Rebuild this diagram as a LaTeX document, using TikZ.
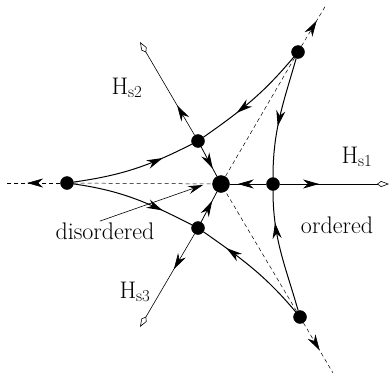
\documentclass[tikz,border=0pt]{standalone}
\usetikzlibrary{arrows.meta,decorations.markings}

\begin{document}
\begin{tikzpicture}[x=1pt,y=1pt,
  fp/.style={draw,circle,fill=black,inner sep=0pt,minimum size=13pt},
  flow/.style={postaction={decorate},
    decoration={markings,mark=at position #1 with {\arrow{Stealth[length=16pt,width=9pt,inset=5pt]}}}},
  field/.style={line width=.6pt,-{Kite[open,length=12pt,width=6pt,inset=4pt]}},
  sep/.style={line width=.5pt,dash pattern=on 4pt off 3pt},
  curve/.style={line width=1pt},
  lbl/.style={font=\fontsize{24}{28}\selectfont}]
\useasboundingbox (0,0) rectangle (391,-375);
% fixed points
\node[fp,minimum size=17pt] (c) at (221,-184) {};
\node[fp] (r) at (273,-184) {};
\node[fp] (ul) at (198,-141) {};
\node[fp] (ll) at (198,-228) {};
\node[fp] (l) at (67,-183) {};
\node[fp] (t) at (298,-52) {};
\node[fp] (b) at (300,-317) {};
\coordinate (h1) at (389,-184);
\coordinate (h2) at (140,-42);
\coordinate (h3) at (140,-327);
\coordinate (el) at (5,-183);
\coordinate (et) at (326,-5);
\coordinate (eb) at (333,-373);
\coordinate (dp) at (203,-185);
% labels
\node[lbl] (hs1) at (357,-157) {H\textsubscript{s1}};
\node[lbl] (hs2) at (127,-88) {H\textsubscript{s2}};
\node[lbl] (hs3) at (135,-292) {H\textsubscript{s3}};
\node[lbl] (dis) at (105,-231) {disordered};
\node[lbl] (ord) at (337,-225) {ordered};
% separatrices
\draw[sep] (l) -- (c);
\draw[sep,flow=.6] (l) -- (el);
\draw[sep] (t) -- (c);
\draw[sep,flow=.62] (t) -- (et);
\draw[sep] (b) -- (c);
\draw[sep,flow=.55] (b) -- (eb);
% field axes
\draw[field,flow=.36] (r) -- (h1);
\draw[field,flow=.32] (ul) -- (h2);
\draw[field,flow=.38] (ll) -- (h3);
\draw[line width=.8pt,flow=.78] (r) -- (c);
\draw[line width=.8pt,flow=.74] (ul) -- (c);
\draw[line width=.8pt,flow=.7] (ll) -- (c);
% flows
\draw[curve,flow=.74] (l) to[out=8,in=207] (ul);
\draw[curve,flow=.74] (l) to[out=-8,in=153] (ll);
\draw[curve,flow=.66] (t) to[out=230,in=35] (ul);
\draw[curve,flow=.58] (t) to[out=-106,in=90] (r);
\draw[curve,flow=.74] (b) to[out=106,in=-90] (r);
\draw[curve,flow=.77] (b) to[out=130,in=-35] (ll);
\draw[line width=.6pt,-{Stealth[length=15pt,width=8pt,inset=5pt]}] ([xshift=-5pt,yshift=-2pt]dis.north) -- (dp);
\end{tikzpicture}
\end{document}
